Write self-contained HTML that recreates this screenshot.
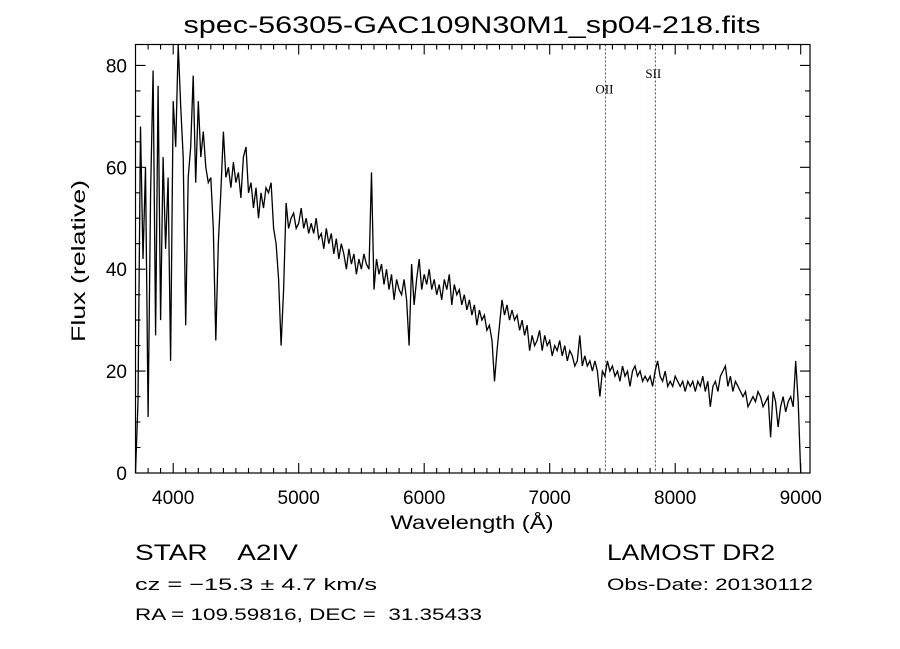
<!DOCTYPE html>
<html><head><meta charset="utf-8"><style>
html,body{margin:0;padding:0;background:#fff;}
svg{display:block;font-family:"Liberation Sans",sans-serif;}
svg text{white-space:pre;}
</style></head><body>
<svg id="chart" width="900" height="649" viewBox="0 0 900 649" xmlns="http://www.w3.org/2000/svg">
<rect width="900" height="649" fill="#fff"/>
<text x="472" y="33" font-size="24" text-anchor="middle" textLength="577" lengthAdjust="spacingAndGlyphs">spec-56305-GAC109N30M1_sp04-218.fits</text>
<g id="ticks"></g>
<g id="lines"></g>
<polyline id="spec" fill="none" stroke="#000" stroke-width="1.3" stroke-linejoin="miter"/>
<rect x="135.5" y="44.5" width="674.5" height="428.5" fill="none" stroke="#000" stroke-width="1.2"/>
<text x="472" y="529" font-size="19" text-anchor="middle" textLength="163" lengthAdjust="spacingAndGlyphs">Wavelength (Å)</text>
<text transform="translate(85,261) rotate(-90)" font-size="19" text-anchor="middle" textLength="162" lengthAdjust="spacingAndGlyphs">Flux (relative)</text>
<text x="135" y="560" font-size="22" textLength="163" lengthAdjust="spacingAndGlyphs" xml:space="preserve">STAR    A2IV</text>
<text x="135" y="590" font-size="17" textLength="242" lengthAdjust="spacingAndGlyphs">cz = −15.3 ± 4.7 km/s</text>
<text x="135" y="620" font-size="17" textLength="347" lengthAdjust="spacingAndGlyphs" xml:space="preserve">RA = 109.59816, DEC =  31.35433</text>
<text x="607" y="560" font-size="22" textLength="168" lengthAdjust="spacingAndGlyphs">LAMOST DR2</text>
<text x="607" y="590" font-size="17" textLength="206" lengthAdjust="spacingAndGlyphs">Obs-Date: 20130112</text>
</svg>
<script>
const waveStart = 3700;
const waveStep = 20;
const flux = [
0,14,68,42,60,11,55,79,27,76,
30,62,44,58,22,73,64,84,72,62,
29,58,64,78,57,73,62,67,60,57,
58,48,26,45,55,67,58,60,56,61,
57,59,54,62,64,55,57,52,56,50,
55,52,56,55,57,48,45,38,25,36,
53,48,50,51,48,49,52,48,50,47,
49,47,50,46,47,44,48,45,47,43,
46,42,45,43,40,44,41,43,39,42,
40,43,41,40,59,36,42,39,41,37,
40,36,39,34,38,36,35,38,34,25,
41,33,38,42,36,39,37,40,36,38,
35,37,34,38,36,39,33,37,35,36,
33,35,32,34,31,33,29,32,30,31,
28,29,26,18,24,29,34,31,33,30,
32,30,31,28,30,27,29,24,27,25,
26,28,24,27,25,26,23,25,24,26,
23,25,22,24,23,21,22,27,21,23,
21,22,20,22,20,15,20,19,22,20,
21,19,20,18,21,19,20,17,20,21,
19,20,18,19,18,19,17,20,22,19,
18,20,17,18,17,19,18,17,18,16,
18,17,18,16,18,17,19,16,18,13,
17,18,16,19,20,21,17,19,16,18,
17,16,15,16,13,14,15,14,16,15,
13,14,15,7,16,14,9,13,15,12,
14,15,13,22,14,0
];
const xTickLabels = [4000,5000,6000,7000,8000,9000];
const yTickLabels = [0,20,40,60,80];
const lineNames = ["OII","SII"];
const lineWaves = [7444,7842];
const lineLabelFlux = [74.5,77.5];

const X0=135.5, X1=810, Y0=473, Y1=44.5;
const xMin=3700, xMax=9074, yMin=0, yMax=84.1;
function sx(v){return X0+(v-xMin)/(xMax-xMin)*(X1-X0);}
function sy(v){return Y0-(v-yMin)/(yMax-yMin)*(Y0-Y1);}
const NS="http://www.w3.org/2000/svg";
function mk(tag,attrs,parent){const e=document.createElementNS(NS,tag);for(const k in attrs)e.setAttribute(k,attrs[k]);parent.appendChild(e);return e;}

const pts=flux.map((f,i)=>sx(waveStart+i*waveStep).toFixed(1)+","+sy(f).toFixed(1));
document.getElementById('spec').setAttribute('points',pts.join(' '));

const tg=document.getElementById('ticks');
let d="";
for(let w=3800;w<=9000;w+=100){
  const x=sx(w).toFixed(1); const L=(w%1000===0)?10:5;
  d+=`M${x},${Y0}v${-L}M${x},${Y1}v${L}`;
}
for(let v=5;v<=80;v+=5){
  const y=sy(v).toFixed(1); const L=(v%20===0)?10:5;
  d+=`M${X0},${y}h${L}M${X1},${y}h${-L}`;
}
const tp=mk('path',{d:d,stroke:'#000','stroke-width':1.1,fill:'none'},tg);


xTickLabels.forEach(v=>{
  const t=mk('text',{x:sx(v),y:504,'font-size':19,'text-anchor':'middle'},tg);
  t.textContent=v;
  
  
});
yTickLabels.forEach(v=>{
  const t=mk('text',{x:127,y:sy(v)+7,'font-size':19,'text-anchor':'end'},tg);
  t.textContent=v;
  
  
});
const lg=document.getElementById('lines');
lineWaves.forEach((w,i)=>{
  const x=sx(w);
  const l=mk('line',{x1:x,x2:x,y1:Y1,y2:Y0,stroke:'#8b3030','stroke-width':1,'stroke-dasharray':'2,2'},lg);
  
  
  const t=mk('text',{x:x-10,y:sy(lineLabelFlux[i]),'font-size':13,'font-family':'Liberation Serif, serif'},lg);
  t.textContent=lineNames[i];
  
  
});
</script>
</body></html>
